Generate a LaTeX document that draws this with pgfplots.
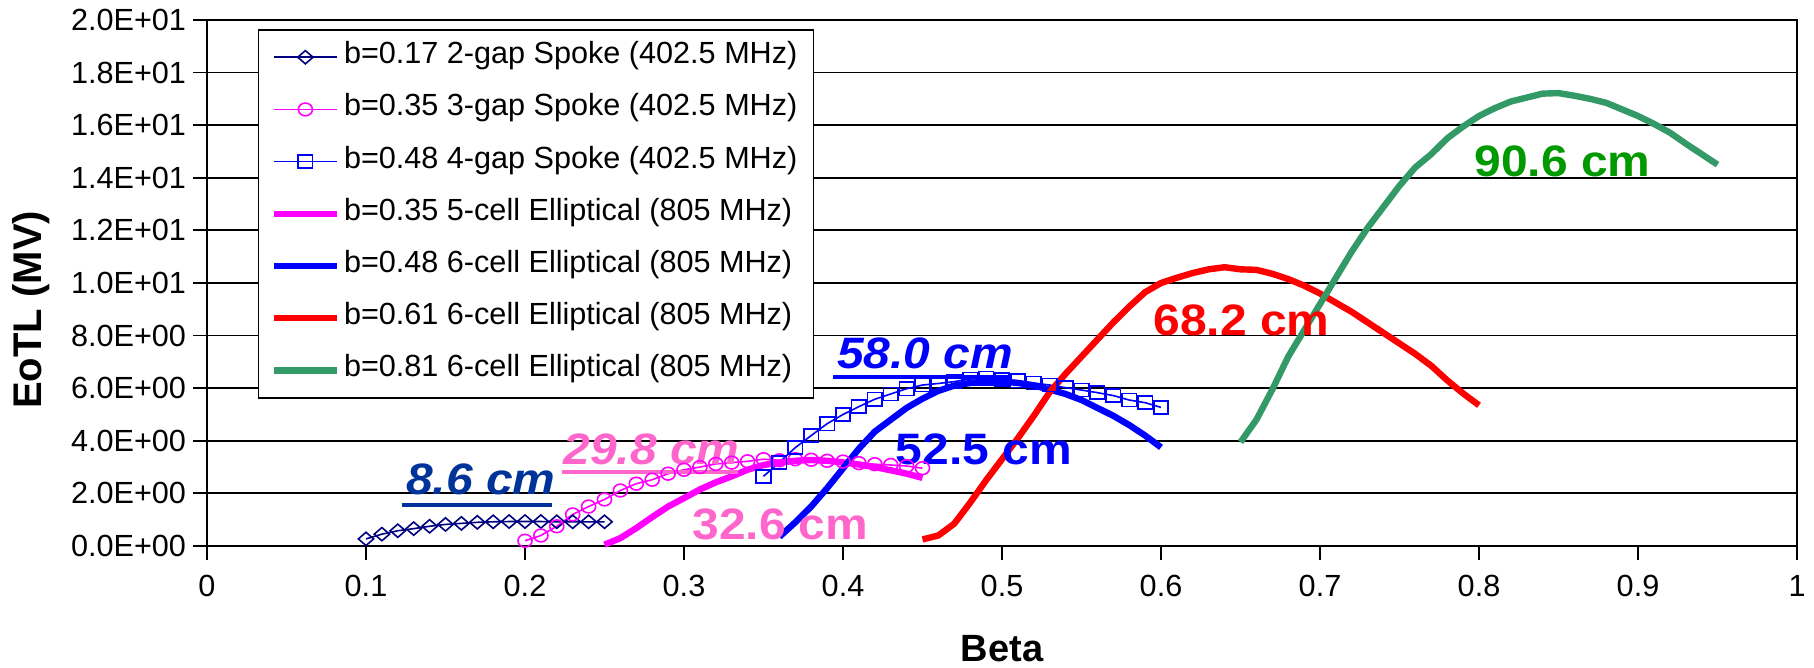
\documentclass[border=0pt]{standalone}
\usepackage{fontspec}
\setmainfont{Liberation Sans}
\usepackage{graphicx}
\usepackage{pgfplots}
\pgfplotsset{compat=1.18}

\definecolor{spokenavy}{RGB}{0,0,128}
\definecolor{spokemag}{RGB}{255,0,255}
\definecolor{spokeblue}{RGB}{0,0,255}
\definecolor{ellred}{RGB}{255,0,0}
\definecolor{ellgreen}{RGB}{51,153,102}
\definecolor{labnavy}{RGB}{0,51,153}
\definecolor{labpink}{RGB}{255,102,204}
\definecolor{labgreen}{RGB}{0,153,0}

\newcommand{\tickfont}{\fontsize{15.3}{18}\selectfont}
\newcommand{\annfont}{\fontsize{22}{26}\selectfont\bfseries}
\newcommand{\hs}[1]{\scalebox{1.09}[1]{#1}}

\begin{document}
\begin{tikzpicture}
\useasboundingbox (-103.5pt,-61pt) rectangle (803.5pt,273pt);
\begin{axis}[
  at={(0pt,0pt)}, anchor=south west,
  scale only axis, width=795pt, height=263pt,
  xmin=0, xmax=1, ymin=0, ymax=20,
  clip=false,
  xtick={0,0.1,0.2,0.3,0.4,0.5,0.6,0.7,0.8,0.9,1},
  xticklabels={0,0.1,0.2,0.3,0.4,0.5,0.6,0.7,0.8,0.9,1},
  ytick={0,2,4,6,8,10,12,14,16,18,20},
  yticklabels={0.0E+00,2.0E+00,4.0E+00,6.0E+00,8.0E+00,1.0E+01,1.2E+01,1.4E+01,1.6E+01,1.8E+01,2.0E+01},
  xtick pos=left, ytick pos=left,
  tick align=outside, major tick length=7pt,
  tick style={black, line width=0.9pt},
  ymajorgrids, major grid style={black, line width=0.9pt},
  axis line style={black, line width=1.1pt},
  tick label style={font=\tickfont, black},
  xticklabel style={yshift=-4pt},
  xlabel={\bfseries Beta},
  ylabel={\bfseries EoTL (MV)},
  xlabel style={font=\fontsize{19}{23}\selectfont, at={(axis description cs:0.5,-0.1945)}, anchor=center},
  ylabel style={font=\fontsize{20}{24}\selectfont, at={(axis description cs:-0.1107,0.449)}, anchor=center},
  legend cell align=left,
  legend style={
    at={(axis description cs:0.032,0.983)}, anchor=north west,
    draw=black, line width=0.8pt, fill=white,
    font=\fontsize{15.3}{18}\selectfont,
    inner ysep=6.5pt, inner xsep=6pt,
    row sep=11.6pt,
    nodes={text height=10.5pt, text depth=4pt, inner ysep=0pt},
  },
  legend image code/.code={%
    \draw[mark repeat=2,mark phase=2,#1] plot coordinates {(0pt,0pt) (15.75pt,0pt) (31.5pt,0pt)};%
  },
]

% b=0.17 2-gap spoke
\addplot[spokenavy, line width=0.8pt, mark=diamond, mark size=3.3pt, mark options={solid, xscale=1.55}]
coordinates {
(0.10,0.27) (0.11,0.45) (0.12,0.58) (0.13,0.66) (0.14,0.75) (0.15,0.82)
(0.16,0.86) (0.17,0.90) (0.18,0.92) (0.19,0.93) (0.20,0.93) (0.21,0.93)
(0.22,0.92) (0.23,0.92) (0.24,0.92) (0.25,0.92)
};
\addlegendentry{b=0.17 2-gap Spoke (402.5 MHz)}

% b=0.35 3-gap spoke
\addplot[spokemag, line width=0.8pt, mark=o, mark size=3.2pt, mark options={solid, xscale=1.1}]
coordinates {
(0.20,0.20) (0.21,0.40) (0.22,0.75) (0.23,1.20) (0.24,1.50) (0.25,1.77)
(0.26,2.11) (0.27,2.37) (0.28,2.52) (0.29,2.75) (0.30,2.90) (0.31,3.00)
(0.32,3.12) (0.33,3.17) (0.34,3.22) (0.35,3.30) (0.36,3.26) (0.37,3.30)
(0.38,3.28) (0.39,3.24) (0.40,3.21) (0.41,3.15) (0.42,3.11) (0.43,3.08)
(0.44,3.04) (0.45,2.96)
};
\addlegendentry{b=0.35 3-gap Spoke (402.5 MHz)}

% b=0.48 4-gap spoke
\addplot[spokeblue, line width=0.8pt, mark=square, mark size=3.3pt, mark options={solid, xscale=1.1}]
coordinates {
(0.35,2.65) (0.36,3.18) (0.37,3.74) (0.38,4.20) (0.39,4.65) (0.40,5.00)
(0.41,5.30) (0.42,5.58) (0.43,5.78) (0.44,5.98) (0.45,6.12) (0.46,6.18)
(0.47,6.25) (0.48,6.35) (0.49,6.38) (0.50,6.33) (0.51,6.28) (0.52,6.20)
(0.53,6.12) (0.54,6.02) (0.55,5.93) (0.56,5.83) (0.57,5.72) (0.58,5.55)
(0.59,5.45) (0.60,5.27)
};
\addlegendentry{b=0.48 4-gap Spoke (402.5 MHz)}

% b=0.35 5-cell elliptical
\addplot[spokemag, line width=3.2pt, line join=round, no marks]
coordinates {
(0.25,0.05) (0.26,0.30) (0.27,0.68) (0.28,1.10) (0.29,1.50) (0.30,1.82)
(0.31,2.15) (0.32,2.42) (0.33,2.65) (0.34,2.90) (0.35,3.08) (0.36,3.17)
(0.37,3.24) (0.38,3.27) (0.39,3.24) (0.40,3.18) (0.41,3.10) (0.42,3.00)
(0.43,2.88) (0.44,2.75) (0.45,2.59)
};
\addlegendentry{b=0.35 5-cell Elliptical (805 MHz)}

% b=0.48 6-cell elliptical
\addplot[spokeblue, line width=3.2pt, line join=round, no marks]
coordinates {
(0.36,0.35) (0.37,0.90) (0.38,1.50) (0.39,2.20) (0.40,2.95) (0.41,3.70)
(0.42,4.35) (0.43,4.80) (0.44,5.25) (0.45,5.60) (0.46,5.90) (0.47,6.10)
(0.48,6.20) (0.49,6.25) (0.50,6.25) (0.51,6.20) (0.52,6.10) (0.53,5.95)
(0.54,5.78) (0.55,5.55) (0.56,5.25) (0.57,4.95) (0.58,4.60) (0.59,4.20)
(0.60,3.75)
};
\addlegendentry{b=0.48 6-cell Elliptical (805 MHz)}

% b=0.61 6-cell elliptical
\addplot[ellred, line width=3.2pt, line join=round, no marks]
coordinates {
(0.45,0.25) (0.46,0.40) (0.47,0.85) (0.48,1.65) (0.49,2.50) (0.50,3.30)
(0.51,4.10) (0.52,4.95) (0.53,5.85) (0.54,6.55) (0.55,7.20) (0.56,7.85)
(0.57,8.50) (0.58,9.10) (0.59,9.65) (0.60,10.00) (0.61,10.20) (0.62,10.38)
(0.63,10.52) (0.64,10.60) (0.65,10.52) (0.66,10.50) (0.67,10.35) (0.68,10.15)
(0.69,9.90) (0.70,9.60) (0.71,9.25) (0.72,8.90) (0.73,8.50) (0.74,8.10)
(0.75,7.70) (0.76,7.30) (0.77,6.85) (0.78,6.30) (0.79,5.80) (0.80,5.35)
};
\addlegendentry{b=0.61 6-cell Elliptical (805 MHz)}

% b=0.81 6-cell elliptical
\addplot[ellgreen, line width=3.2pt, line join=round, no marks]
coordinates {
(0.65,3.95) (0.66,4.80) (0.67,5.95) (0.68,7.20) (0.69,8.20) (0.70,9.20)
(0.71,10.20) (0.72,11.20) (0.73,12.10) (0.74,12.90) (0.75,13.70) (0.76,14.40)
(0.77,14.90) (0.78,15.50) (0.79,15.95) (0.80,16.35) (0.81,16.65) (0.82,16.90)
(0.83,17.05) (0.84,17.20) (0.85,17.22) (0.86,17.12) (0.87,17.00) (0.88,16.85)
(0.89,16.60) (0.90,16.35) (0.91,16.05) (0.92,15.72) (0.93,15.30) (0.94,14.90)
(0.95,14.50)
};
\addlegendentry{b=0.81 6-cell Elliptical (805 MHz)}

% cavity length labels
\node[anchor=base west, inner sep=0pt, text=labnavy] at (axis cs:0.125,1.94) {\annfont\itshape\hs{8.6 cm}};
\draw[labnavy, line width=2pt] (axis cs:0.1226,1.56) -- (axis cs:0.217,1.56);
\node[anchor=base west, inner sep=0pt, text=labpink] at (axis cs:0.224,3.08) {\annfont\itshape\hs{29.8 cm}};
\draw[labpink, line width=2pt] (axis cs:0.223,2.83) -- (axis cs:0.334,2.83);
\node[anchor=base west, inner sep=0pt, text=labpink] at (axis cs:0.305,0.23) {\annfont\hs{32.6 cm}};
\node[anchor=base west, inner sep=0pt, text=spokeblue] at (axis cs:0.396,6.76) {\annfont\itshape\hs{58.0 cm}};
\draw[spokeblue, line width=2pt] (axis cs:0.394,6.41) -- (axis cs:0.506,6.41);
\node[anchor=base west, inner sep=0pt, text=spokeblue] at (axis cs:0.433,3.08) {\annfont\hs{52.5 cm}};
\node[anchor=base west, inner sep=0pt, text=ellred] at (axis cs:0.595,7.99) {\annfont\hs{68.2 cm}};
\node[anchor=base west, inner sep=0pt, text=labgreen] at (axis cs:0.797,14.05) {\annfont\hs{90.6 cm}};
\end{axis}
\end{tikzpicture}
\end{document}
